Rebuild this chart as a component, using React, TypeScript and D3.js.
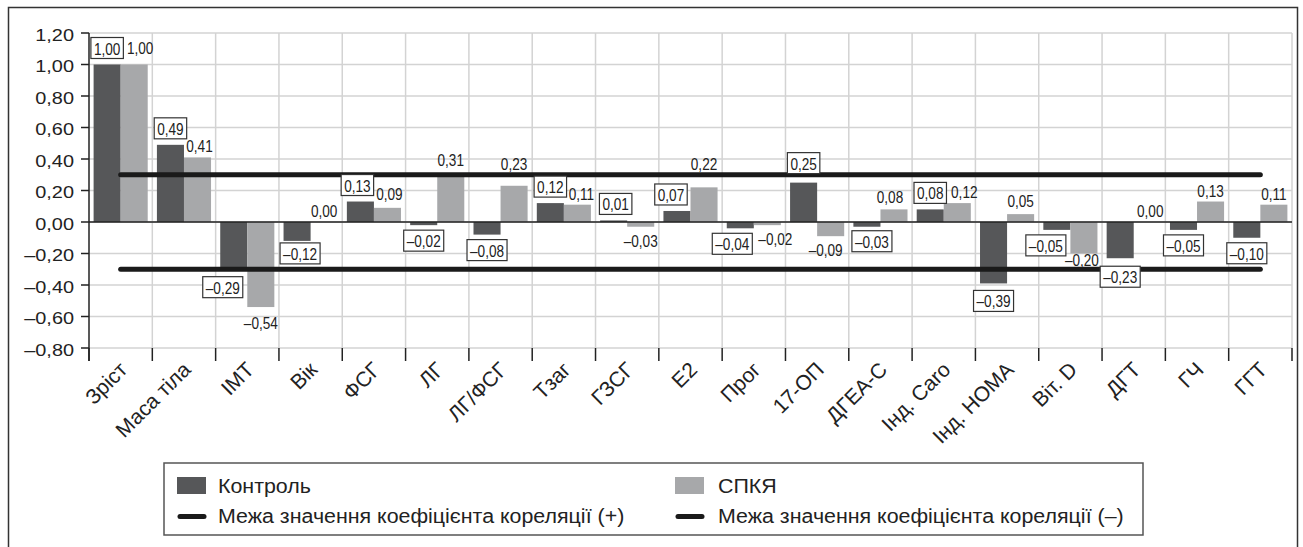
import React from "react";
import * as d3 from "d3";

// Correlation coefficients per indicator
const categories = [
  "Зріст", "Маса тіла", "ІМТ", "Вік", "ФСГ", "ЛГ", "ЛГ/ФСГ", "Тзаг", "ГЗСГ", "Е2",
  "Прог", "17-ОП", "ДГЕА-С", "Інд. Caro", "Інд. HOMA", "Віт. D", "ДГТ", "ГЧ", "ГГТ",
];
const controlValues = [
  1.0, 0.49, -0.29, -0.12, 0.13, -0.02, -0.08, 0.12, 0.01, 0.07,
  -0.04, 0.25, -0.03, 0.08, -0.39, -0.05, -0.23, -0.05, -0.1,
];
const pcosValues = [
  1.0, 0.41, -0.54, 0.0, 0.09, 0.31, 0.23, 0.11, -0.03, 0.22,
  -0.02, -0.09, 0.08, 0.12, 0.05, -0.2, 0.0, 0.13, 0.11,
];
const yTicks = [1.2, 1.0, 0.8, 0.6, 0.4, 0.2, 0.0, -0.2, -0.4, -0.6, -0.8];
const thresholdPos = 0.3;
const thresholdNeg = -0.3;
const seriesNames = ["Контроль", "СПКЯ"];
const thresholdNames = [
  "Межа значення коефіцієнта кореляції (+)",
  "Межа значення коефіцієнта кореляції (–)",
];

// Label nudges (px) so labels clear the threshold lines and neighbours
const controlNudge: Record<string, [number, number]> = {
  "ІМТ": [-11, 4], "Вік": [3, -3], "ФСГ": [-3, 0], "ГЗСГ": [2, 0], "Е2": [-6, 0],
  "Прог": [-8, 0], "17-ОП": [0, -3], "ДГЕА-С": [5, -1], "Інд. HOMA": [0, 2],
  "Віт. D": [-11, 0], "ДГТ": [0, 3],
};
const pcosNudge: Record<string, [number, number]> = {
  "Зріст": [6, -6], "Маса тіла": [2, 0], "ІМТ": [0, 2], "ФСГ": [2, -3], "ЛГ": [0, -2],
  "ЛГ/ФСГ": [0, -11], "Тзаг": [4, 0], "Е2": [0, -12], "Прог": [8, 0], "17-ОП": [-5, 0],
  "ДГЕА-С": [-4, -1], "Інд. Caro": [7, 0], "Інд. HOMA": [0, -2], "Віт. D": [-2, -8], "ДГТ": [3, 0],
};

const W = 1303;
const H = 547;
const plot = { left: 89, right: 1292, top: 33, bottom: 348 };
const DARK = "#565759";
const LIGHT = "#a7a8aa";
const GRID = "#d3d3d3";
const FONT = "'Liberation Sans', Arial, Helvetica, sans-serif";

const fmt = (v: number) => (v < 0 ? "–" : "") + Math.abs(v).toFixed(2).replace(".", ",");

const charEm = (c: string) => (c === "," ? 0.278 : 0.556);
const textWidth = (s: string, size: number, sx: number) =>
  s.split("").reduce((a, c) => a + charEm(c), 0) * size * sx;

export default function App() {
  const x = d3.scaleBand<string>().domain(categories).range([plot.left, plot.right]).padding(0);
  const step = x.step();
  const inner = d3
    .scaleBand<string>()
    .domain(["c", "p"])
    .range([0, step])
    .paddingInner(0)
    .paddingOuter(0.17);
  const bw = inner.bandwidth();
  const y = d3.scaleLinear().domain([-0.8, 1.2]).range([plot.bottom, plot.top]);
  const y0 = y(0);

  const boundaries = categories.map((c) => x(c)!).concat([plot.right]);

  const dlSize = 17;
  const dlSx = 0.8;
  const boxH = 21;

  return (
    <svg
      width={W}
      height={H}
      style={{ position: "absolute", left: 0, top: 0, background: "#fff" }}
      fontFamily={FONT}
    >
      <rect x={0} y={0} width={W} height={H} fill="#fff" />
      <rect x={8.5} y={7.5} width={1289} height={546} fill="none" stroke="#333" strokeWidth={1.5} />

      {/* grid */}
      {yTicks.map((t) => (
        <line key={"h" + t} x1={plot.left} x2={plot.right} y1={y(t)} y2={y(t)} stroke={GRID} strokeWidth={1.5} />
      ))}
      {boundaries.slice(1).map((bx, i) => (
        <line key={"v" + i} x1={bx} x2={bx} y1={plot.top} y2={plot.bottom} stroke={GRID} strokeWidth={1.5} />
      ))}

      {/* bars */}
      {categories.map((c, i) => {
        const vc = controlValues[i];
        const vp = pcosValues[i];
        const xc = x(c)! + inner("c")!;
        const xp = x(c)! + inner("p")!;
        return (
          <g key={"b" + c}>
            <rect x={xc} width={bw} y={Math.min(y(vc), y0)} height={Math.abs(y(vc) - y0)} fill={DARK} />
            <rect x={xp} width={bw} y={Math.min(y(vp), y0)} height={Math.abs(y(vp) - y0)} fill={LIGHT} />
          </g>
        );
      })}

      {/* zero line and axes */}
      <line x1={plot.left} x2={plot.right} y1={y0} y2={y0} stroke="#222" strokeWidth={1.5} />
      <line x1={plot.left} x2={plot.left} y1={plot.top} y2={361} stroke="#222" strokeWidth={1.5} />
      {yTicks.map((t) => (
        <g key={"yt" + t}>
          <line x1={81} x2={plot.left} y1={y(t)} y2={y(t)} stroke="#222" strokeWidth={1.5} />
          <text
            transform={`translate(74,${y(t) + 7.5}) scale(1.17,1)`}
            textAnchor="end"
            fontSize={17}
            fill="#222"
          >
            {fmt(t)}
          </text>
        </g>
      ))}
      {boundaries.map((bx, i) => (
        <line key={"xt" + i} x1={bx} x2={bx} y1={plot.bottom} y2={361} stroke="#222" strokeWidth={1.5} />
      ))}

      {/* category labels */}
      {categories.map((c) => {
        const cx = x(c)! + step / 2 + 8;
        return (
          <text
            key={"cl" + c}
            transform={`translate(${cx},371) rotate(-45)`}
            textAnchor="end"
            fontSize={21}
            fill="#222"
          >
            {c}
          </text>
        );
      })}

      {/* threshold lines */}
      {[thresholdPos, thresholdNeg].map((t) => (
        <line
          key={"th" + t}
          x1={x(categories[0])! + step / 2}
          x2={x(categories[categories.length - 1])! + step / 2}
          y1={y(t)}
          y2={y(t)}
          stroke="#1a1a1a"
          strokeWidth={5}
          strokeLinecap="round"
        />
      ))}

      {/* control labels (boxed) */}
      {categories.map((c, i) => {
        const v = controlValues[i];
        const s = fmt(v);
        const [dx, dy] = controlNudge[c] || [0, 0];
        const cx = x(c)! + inner("c")! + bw / 2 + dx;
        const tw = textWidth(s, dlSize, dlSx);
        const bwid = tw + 6;
        let by: number;
        if (v >= 0) by = y(v) - 6 - boxH + dy;
        else by = y(v) + 5 + dy;
        return (
          <g key={"cl2" + c}>
            <rect x={cx - bwid / 2} y={by} width={bwid} height={boxH} fill="#fff" stroke="#333" strokeWidth={1.2} />
            <text
              transform={`translate(${cx},${by + boxH - 4}) scale(${dlSx},1)`}
              textAnchor="middle"
              fontSize={dlSize}
              fill="#222"
            >
              {s}
            </text>
          </g>
        );
      })}

      {/* PCOS labels */}
      {categories.map((c, i) => {
        const v = pcosValues[i];
        const s = fmt(v);
        const [dx, dy] = pcosNudge[c] || [0, 0];
        const cx = x(c)! + inner("p")! + bw / 2 + dx;
        const base = v >= 0 ? y(v) - 5 : y(v) + 20;
        return (
          <text
            key={"pl" + c}
            transform={`translate(${cx},${base + dy}) scale(${dlSx},1)`}
            textAnchor="middle"
            fontSize={dlSize}
            fill="#222"
          >
            {s}
          </text>
        );
      })}

      {/* legend */}
      <rect x={164} y={463} width={979} height={72} fill="#fff" stroke="#555" strokeWidth={1.5} />
      <rect x={177} y={477} width={29} height={17} fill={DARK} />
      <text transform="translate(218,493) scale(1.07,1)" fontSize={20} fill="#222">
        {seriesNames[0]}
      </text>
      <rect x={675} y={477} width={29} height={17} fill={LIGHT} />
      <text transform="translate(718,493) scale(1.07,1)" fontSize={20} fill="#222">
        {seriesNames[1]}
      </text>
      <line x1={180} x2={204} y1={516.5} y2={516.5} stroke="#1a1a1a" strokeWidth={5} strokeLinecap="round" />
      <text transform="translate(218,523) scale(1.07,1)" fontSize={20} fill="#222">
        {thresholdNames[0]}
      </text>
      <line x1={678} x2={702} y1={516.5} y2={516.5} stroke="#1a1a1a" strokeWidth={5} strokeLinecap="round" />
      <text transform="translate(718,523) scale(1.07,1)" fontSize={20} fill="#222">
        {thresholdNames[1]}
      </text>
    </svg>
  );
}
